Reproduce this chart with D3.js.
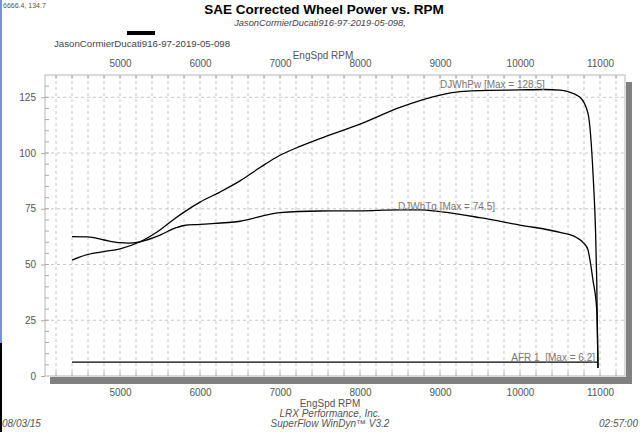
<!DOCTYPE html>
<html>
<head>
<meta charset="utf-8">
<script src="https://cdn.jsdelivr.net/npm/d3@7"></script>
<style>
  body { margin: 0; background: #fff; }
  text { font-family: "Liberation Sans", Arial, sans-serif; }
</style>
</head>
<body>
<div id="chart"></div>
<script>
// Data read from the dyno sheet
const pwRpm = [4400, 4600, 4800, 5000, 5250, 5500, 5700, 5800, 6000, 6250, 6500, 6750, 7000, 7250, 7500, 8000, 8500, 9000, 9250, 9500, 10000, 10300, 10500, 10600, 10750, 10850, 10916, 10944, 10959, 10975];
const pwVal = [52, 54.5, 55.8, 57, 60.2, 65.5, 71, 73.5, 78, 82.5, 87.5, 93.5, 99, 103, 106.5, 113, 120.5, 126, 127.5, 128, 128.3, 128.5, 128.2, 127.5, 125, 117.8, 88.6, 65.5, 43, 3.6];

const tqRpm = [4400, 4600, 4800, 5000, 5100, 5250, 5500, 5700, 5800, 6000, 6500, 7000, 7500, 8000, 8500, 8750, 9000, 9500, 10000, 10500, 10700, 10800, 10850, 10875, 10912, 10959, 10975];
const tqVal = [62.5, 62.4, 61, 59.8, 59.6, 60.2, 63.2, 66.5, 67.5, 68, 69.4, 73.3, 74, 74.1, 74.5, 74.5, 73.7, 71, 67.7, 64.4, 62.2, 59.5, 56.5, 52, 43, 29.6, 3.6];

const afrRpm = [4400, 10975];
const afrVal = [6.2, 6.2];

const xTicks = [5000, 6000, 7000, 8000, 9000, 10000, 11000];
const yTicks = [0, 25, 50, 75, 100, 125];

const runName = "JasonCormierDucati916-97-2019-05-098";

const W = 640, H = 432;
const pL = 45, pR = 625, pT = 75, pB = 376;

const svg = d3.select("#chart").append("svg")
    .attr("width", W).attr("height", H);

const x = d3.scaleLinear().domain([4062.5, 11312.5]).range([pL, pR]);
const y = d3.scaleLinear().domain([0, 135]).range([pB, pT]);

// left window edge
svg.append("rect").attr("x", 0).attr("y", 0).attr("width", 2).attr("height", 343).attr("fill", "#7b8fd6");
svg.append("rect").attr("x", 0).attr("y", 343).attr("width", 2).attr("height", H - 343).attr("fill", "#000");

// shadow
svg.append("rect").attr("x", pL + 5).attr("y", pB + 1).attr("width", pR - pL + 2).attr("height", 7).attr("fill", "#808080");
svg.append("rect").attr("x", pR + 1).attr("y", pT + 7).attr("width", 6).attr("height", pB - pT + 1).attr("fill", "#808080");

// grid
const vGrid = d3.range(4200, 11300, 200);
svg.append("g").selectAll("line").data(vGrid).join("line")
    .attr("x1", d => x(d)).attr("x2", d => x(d))
    .attr("y1", pT).attr("y2", pB)
    .attr("stroke", "#c8c8c8").attr("stroke-dasharray", "3,3");
svg.append("g").selectAll("line").data(yTicks.filter(d => d > 0)).join("line")
    .attr("x1", pL).attr("x2", pR)
    .attr("y1", d => y(d)).attr("y2", d => y(d))
    .attr("stroke", "#c8c8c8").attr("stroke-dasharray", "3,3");

// frame
svg.append("rect").attr("x", pL).attr("y", pT).attr("width", pR - pL).attr("height", pB - pT)
    .attr("fill", "none").attr("stroke", "#b8b8b8");

// axes
const axStyle = g => {
    g.select(".domain").remove();
    g.selectAll("line").attr("stroke", "#aaa");
    g.selectAll("text").attr("fill", "#555").style("font-size", "10px")
        .style("font-family", "'Liberation Sans', Arial, sans-serif");
};
svg.append("g").attr("transform", `translate(0,${pT})`)
    .call(d3.axisTop(x).tickValues(xTicks).tickSize(0).tickPadding(8).tickFormat(d3.format("d")))
    .call(axStyle);
svg.append("g").attr("transform", `translate(0,${pB})`)
    .call(d3.axisBottom(x).tickValues(xTicks).tickSize(0).tickPadding(13).tickFormat(d3.format("d")))
    .call(axStyle);
svg.append("g").attr("transform", `translate(${pL},0)`)
    .call(d3.axisLeft(y).tickValues(yTicks).tickSize(4).tickPadding(5))
    .call(axStyle);

// minor ticks
svg.append("g").selectAll("line").data(d3.range(5, 135, 5)).join("line")
    .attr("x1", pL).attr("x2", pL + 4)
    .attr("y1", d => y(d)).attr("y2", d => y(d)).attr("stroke", "#aaa");
svg.append("g").selectAll("line").data(vGrid).join("line")
    .attr("x1", d => x(d)).attr("x2", d => x(d))
    .attr("y1", pT).attr("y2", pT + 4).attr("stroke", "#aaa");
svg.append("g").selectAll("line").data(vGrid).join("line")
    .attr("x1", d => x(d)).attr("x2", d => x(d))
    .attr("y1", pB - 4).attr("y2", pB).attr("stroke", "#aaa");

// curves
const line = d3.line().x(d => x(d[0])).y(d => y(d[1])).curve(d3.curveMonotoneX);
const series = [
    { rpm: pwRpm, val: pwVal },
    { rpm: tqRpm, val: tqVal },
    { rpm: afrRpm, val: afrVal }
];
series.forEach(s => {
    svg.append("path")
        .datum(d3.zip(s.rpm, s.val))
        .attr("d", line)
        .attr("fill", "none")
        .attr("stroke", "#000")
        .attr("stroke-width", 1.3);
});

// curve labels
const lbl = (txt, px, py, anchor) => svg.append("text")
    .attr("x", px).attr("y", py).attr("text-anchor", anchor)
    .attr("fill", "#777").style("font-size", "10px").text(txt);
lbl("DJWhPw [Max = " + d3.max(pwVal) + "]", x(9000), y(d3.max(pwVal)) - 1, "start");
lbl("DJWhTq [Max = " + d3.max(tqVal) + "]", x(8475), y(d3.max(tqVal)), "start");
lbl("AFR 1  [Max = " + d3.max(afrVal) + "]", x(10975) - 3, y(d3.max(afrVal)) - 1, "end")
    .attr("xml:space", "preserve");

// titles
svg.append("text").attr("x", 324).attr("y", 14).attr("text-anchor", "middle")
    .style("font-size", "13.5px").style("font-weight", "bold").attr("fill", "#000")
    .text("SAE Corrected Wheel Power vs. RPM");
svg.append("text").attr("x", 320).attr("y", 26).attr("text-anchor", "middle")
    .style("font-size", "9.3px").style("font-style", "italic").attr("fill", "#444")
    .text(runName + ",");
svg.append("text").attr("x", 3).attr("y", 8)
    .style("font-size", "7px").attr("fill", "#555").text("6666.4, 134.7");

// legend
svg.append("rect").attr("x", 127).attr("y", 31).attr("width", 28).attr("height", 4).attr("fill", "#000");
svg.append("text").attr("x", 54).attr("y", 47)
    .style("font-size", "9.7px").attr("fill", "#444").text(runName);

// axis titles
svg.append("text").attr("x", 323).attr("y", 59).attr("text-anchor", "middle")
    .style("font-size", "10px").attr("fill", "#555").text("EngSpd RPM");
svg.append("text").attr("x", 330).attr("y", 407).attr("text-anchor", "middle")
    .style("font-size", "10px").attr("fill", "#555").text("EngSpd RPM");

// footer
svg.append("text").attr("x", 330).attr("y", 417).attr("text-anchor", "middle")
    .style("font-size", "10px").style("font-style", "italic").attr("fill", "#555").text("LRX Performance, Inc.");
svg.append("text").attr("x", 330).attr("y", 427).attr("text-anchor", "middle")
    .style("font-size", "10px").style("font-style", "italic").attr("fill", "#555").text("SuperFlow WinDyn\u2122 V3.2");
svg.append("text").attr("x", 2).attr("y", 427)
    .style("font-size", "10px").style("font-style", "italic").attr("fill", "#555").text("08/03/15");
svg.append("text").attr("x", 638).attr("y", 427).attr("text-anchor", "end")
    .style("font-size", "10px").style("font-style", "italic").attr("fill", "#555").text("02:57:00");
</script>
</body>
</html>
